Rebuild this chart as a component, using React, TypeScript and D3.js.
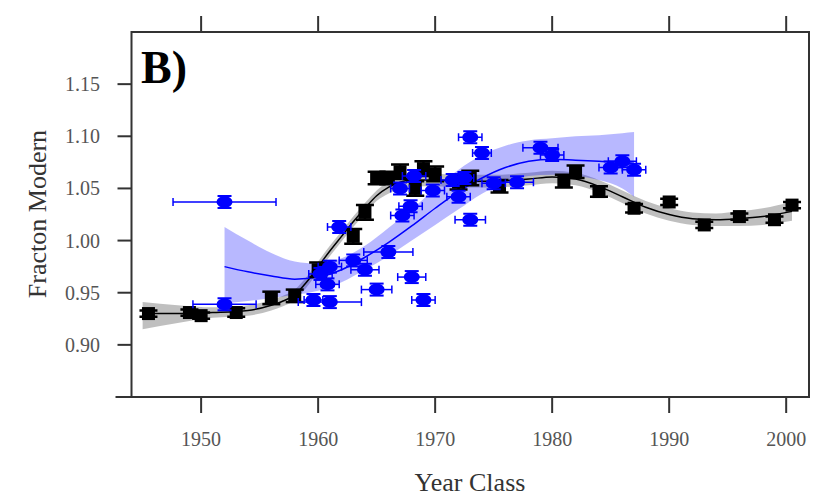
import React from 'react';
import * as d3 from 'd3';

// fitted curves (year, fit, upper, lower)
const blackYears = [1945, 1948, 1951, 1954, 1956, 1957, 1958, 1959, 1960, 1961, 1962, 1963, 1964, 1965, 1966, 1967, 1968, 1970, 1972, 1975, 1978, 1980, 1982, 1984, 1986, 1988, 1990, 1992, 1994, 1996, 1998, 2000.5];
const blackFit = [0.930, 0.930, 0.931, 0.933, 0.938, 0.942, 0.948, 0.960, 0.975, 0.990, 1.004, 1.018, 1.031, 1.043, 1.051, 1.056, 1.058, 1.058, 1.057, 1.057, 1.059, 1.061, 1.059, 1.052, 1.042, 1.032, 1.025, 1.021, 1.020, 1.021, 1.023, 1.028];
const blackUpper = [0.941, 0.938, 0.936, 0.938, 0.943, 0.947, 0.953, 0.965, 0.980, 0.995, 1.009, 1.023, 1.036, 1.048, 1.057, 1.062, 1.064, 1.064, 1.063, 1.063, 1.065, 1.067, 1.065, 1.058, 1.048, 1.038, 1.031, 1.027, 1.026, 1.028, 1.031, 1.037];
const blackLower = [0.915, 0.921, 0.926, 0.928, 0.933, 0.937, 0.943, 0.955, 0.970, 0.985, 0.999, 1.013, 1.026, 1.038, 1.045, 1.050, 1.052, 1.052, 1.051, 1.051, 1.053, 1.055, 1.053, 1.046, 1.036, 1.026, 1.019, 1.015, 1.014, 1.014, 1.015, 1.019];

const blueYears = [1952, 1954, 1956, 1958, 1960, 1962, 1964, 1966, 1968, 1970, 1972, 1974, 1976, 1978, 1980, 1982, 1984, 1986, 1987];
const blueFit = [0.975, 0.970, 0.966, 0.963, 0.965, 0.972, 0.984, 0.998, 1.014, 1.031, 1.047, 1.060, 1.070, 1.076, 1.078, 1.077, 1.076, 1.075, 1.074];
const blueUpper = [1.013, 1.000, 0.988, 0.980, 0.978, 0.983, 0.995, 1.012, 1.030, 1.050, 1.068, 1.082, 1.091, 1.096, 1.098, 1.100, 1.101, 1.103, 1.104];
const blueLower = [0.940, 0.942, 0.945, 0.948, 0.952, 0.960, 0.972, 0.985, 1.000, 1.015, 1.030, 1.045, 1.056, 1.062, 1.063, 1.062, 1.058, 1.050, 1.042];

// observations: [year, value, error]
const blackPoints = [
  [1945.5, 0.930, 0.003], [1949, 0.931, 0.003], [1950, 0.928, 0.003], [1953, 0.931, 0.004],
  [1956, 0.945, 0.006], [1958, 0.947, 0.006], [1960, 0.972, 0.007], [1963, 1.004, 0.007],
  [1964, 1.027, 0.007], [1965, 1.060, 0.006], [1966, 1.060, 0.006], [1967, 1.066, 0.007],
  [1968.3, 1.050, 0.007], [1969, 1.069, 0.007], [1970, 1.064, 0.007], [1972, 1.056, 0.007],
  [1973, 1.060, 0.007], [1975.5, 1.052, 0.006], [1981, 1.057, 0.006], [1982, 1.066, 0.006],
  [1984, 1.047, 0.005], [1987, 1.031, 0.004], [1990, 1.037, 0.003], [1993, 1.015, 0.003],
  [1996, 1.023, 0.003], [1999, 1.020, 0.003], [2000.5, 1.034, 0.003],
];

// [year, value, year error]
const bluePoints = [
  [1952, 1.037, 4.4], [1952, 0.939, 2.7], [1959.6, 0.943, 0.8], [1960.2, 0.968, 1.0],
  [1960.8, 0.958, 1.0], [1961, 0.941, 2.7], [1961, 0.975, 1.0], [1961.8, 1.013, 1.0],
  [1963, 0.981, 1.2], [1964, 0.972, 1.2], [1965, 0.953, 1.3], [1966, 0.989, 2.1],
  [1967, 1.050, 0.8], [1967.2, 1.024, 1.0], [1967.9, 1.033, 1.0], [1968, 0.965, 1.2],
  [1968.2, 1.062, 1.0], [1969, 0.943, 1.0], [1969.8, 1.048, 1.0], [1971.5, 1.058, 1.0],
  [1972, 1.042, 1.0], [1972.5, 1.060, 0.8], [1973, 1.020, 1.3], [1973, 1.099, 1.0],
  [1974, 1.084, 0.8], [1975, 1.055, 1.0], [1977, 1.056, 1.4], [1979, 1.089, 1.5],
  [1980, 1.082, 1.0], [1985, 1.070, 1.0], [1986, 1.076, 1.2], [1987, 1.068, 1.0],
];

const xTicks = [1950, 1960, 1970, 1980, 1990, 2000];
const yTicks = [0.90, 0.95, 1.00, 1.05, 1.10, 1.15];

const left = 131.5, right = 809, top = 32, bottom = 397;
const axisColor = '#333';
const font = '"Liberation Serif", "DejaVu Serif", serif';

export default function App() {
  const x = d3.scaleLinear().domain([1944.05, 2001.95]).range([left, right]);
  const y = d3.scaleLinear().domain([0.85, 1.20]).range([bottom, top]);

  const band = (yrs: number[], hi: number[], lo: number[]) =>
    d3.area<number>()
      .x((_, i) => x(yrs[i]))
      .y0((_, i) => y(lo[i]))
      .y1((_, i) => y(hi[i]))
      .curve(d3.curveMonotoneX)(yrs) || '';
  const line = (yrs: number[], v: number[]) =>
    d3.line<number>()
      .x((_, i) => x(yrs[i]))
      .y((_, i) => y(v[i]))
      .curve(d3.curveMonotoneX)(yrs) || '';

  return (
    <svg width={820} height={498} style={{ position: 'absolute', left: 0, top: 0, background: '#fff' }}>
      <defs>
        <clipPath id="plot">
          <rect x={left} y={top} width={right - left} height={bottom - top} />
        </clipPath>
      </defs>

      <g clipPath="url(#plot)">
        <path d={band(blackYears, blackUpper, blackLower)} fill="#000" fillOpacity={0.25} />
        <path d={band(blueYears, blueUpper, blueLower)} fill="#0000ff" fillOpacity={0.28} />
        <path d={line(blackYears, blackFit)} fill="none" stroke="#000" strokeWidth={1.5} />
        <path d={line(blueYears, blueFit)} fill="none" stroke="#0000ff" strokeWidth={1.5} />

        {blackPoints.map(([yr, v, e], i) => (
          <g key={'b' + i}>
            <line x1={x(yr)} x2={x(yr)} y1={y(v - e)} y2={y(v + e)} stroke="#000" strokeWidth={2.5} />
            <line x1={x(yr) - 9} x2={x(yr) + 9} y1={y(v - e)} y2={y(v - e)} stroke="#000" strokeWidth={2.5} />
            <line x1={x(yr) - 9} x2={x(yr) + 9} y1={y(v + e)} y2={y(v + e)} stroke="#000" strokeWidth={2.5} />
            <rect x={x(yr) - 6.5} y={y(v) - 6.5} width={13} height={13} fill="#000" />
          </g>
        ))}

        {bluePoints.map(([yr, v, e], i) => (
          <g key={'u' + i} stroke="#0000ff" strokeWidth={1.5}>
            <line x1={x(yr - e)} x2={x(yr + e)} y1={y(v)} y2={y(v)} />
            <line x1={x(yr - e)} x2={x(yr - e)} y1={y(v) - 4} y2={y(v) + 4} />
            <line x1={x(yr + e)} x2={x(yr + e)} y1={y(v) - 4} y2={y(v) + 4} />
            <line x1={x(yr) - 7} x2={x(yr) + 7} y1={y(v) - 6} y2={y(v) - 6} strokeWidth={2} />
            <line x1={x(yr) - 7} x2={x(yr) + 7} y1={y(v) + 6} y2={y(v) + 6} strokeWidth={2} />
            <ellipse cx={x(yr)} cy={y(v)} rx={8} ry={6} fill="#0000ff" stroke="none" />
          </g>
        ))}
      </g>

      {/* frame */}
      <rect x={left} y={top} width={right - left} height={bottom - top} fill="none" stroke={axisColor} strokeWidth={2} />

      {/* y axis */}
      <line x1={left - 16} x2={left} y1={y(0.85)} y2={y(0.85)} stroke={axisColor} strokeWidth={2} />
      {yTicks.map((t) => (
        <g key={'y' + t}>
          <line x1={left - 14} x2={left} y1={y(t)} y2={y(t)} stroke={axisColor} strokeWidth={2} />
          <text x={100} y={y(t)} dy="0.35em" textAnchor="end" fontFamily={font} fontSize={20} fill="#555">
            {t.toFixed(2)}
          </text>
        </g>
      ))}

      {/* x axis, bottom and top */}
      {xTicks.map((t) => (
        <g key={'x' + t}>
          <line x1={x(t)} x2={x(t)} y1={bottom} y2={bottom + 16} stroke={axisColor} strokeWidth={2} />
          <line x1={x(t)} x2={x(t)} y1={top} y2={top - 16} stroke={axisColor} strokeWidth={2} />
          <text x={x(t)} y={446} textAnchor="middle" fontFamily={font} fontSize={20} fill="#555">
            {t}
          </text>
        </g>
      ))}

      <text x={470} y={491} textAnchor="middle" fontFamily={font} fontSize={26} fill="#333">Year Class</text>
      <text transform="translate(46,214) rotate(-90)" textAnchor="middle" fontFamily={font} fontSize={26} fill="#333">
        Fracton Modern
      </text>
      <text x={141} y={83} fontFamily={font} fontSize={46} fontWeight="bold" fill="#000">B)</text>
    </svg>
  );
}
